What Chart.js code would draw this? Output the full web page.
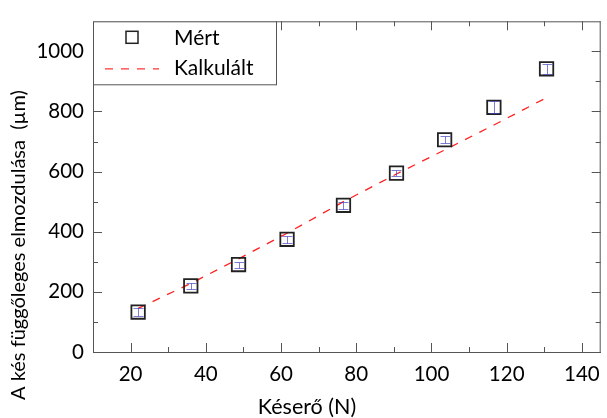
<!DOCTYPE html>
<html>
<head>
<meta charset="utf-8">
<script src="https://cdn.jsdelivr.net/npm/chart.js@4"></script>
<style>
  html, body { margin: 0; padding: 0; background: #fff; overflow: hidden; }
  #wrap { width: 612px; height: 418px; }
</style>
</head>
<body>
<div id="wrap"><canvas id="chart"></canvas></div>
<script>
// measured / calculated data
const force = [22, 36, 48.7, 61.6, 76.6, 90.7, 103.5, 116.6, 130.6]
const measured = [133, 220, 291, 375, 488, 595, 706, 814, 942]
const measuredErr = [12, 10, 10, 12, 12, 10, 12, 20, 17]
const calculated = [145, 228, 310, 395, 500, 592, 672, 755, 846]

const xMajor = [20, 40, 60, 80, 100, 120, 140]
const xMinor = [30, 50, 70, 90, 110, 130]
const yMajor = [0, 200, 400, 600, 800, 1000]
const yMinor = [100, 300, 500, 700, 900]

const FONT = "Lato, 'Open Sans', sans-serif"
const AXIS_COLOR = "#555"

const frame = {
  id: "frame",
  afterDatasetsDraw(chart) {
    const { ctx, chartArea: a, scales } = chart
    const x = scales.x, y = scales.y
    ctx.save()

    // error bars
    ctx.strokeStyle = "rgba(70,70,190,0.7)"
    ctx.lineWidth = 1
    force.forEach((f, i) => {
      const px = Math.round(x.getPixelForValue(f)) + 0.5
      const top = Math.round(y.getPixelForValue(measured[i] + measuredErr[i])) + 0.5
      const bot = Math.round(y.getPixelForValue(measured[i] - measuredErr[i])) + 0.5
      ctx.beginPath()
      ctx.moveTo(px, top); ctx.lineTo(px, bot)
      ctx.moveTo(px - 5, top); ctx.lineTo(px + 5, top)
      ctx.moveTo(px - 5, bot); ctx.lineTo(px + 5, bot)
      ctx.stroke()
    })

    // frame
    ctx.strokeStyle = AXIS_COLOR
    ctx.lineWidth = 1
    ctx.beginPath()
    ctx.moveTo(a.left, a.top + 0.5); ctx.lineTo(a.right, a.top + 0.5)
    ctx.moveTo(a.right - 0.5, a.top); ctx.lineTo(a.right - 0.5, a.bottom)
    // inward ticks
    const tick = (vals, len) => {
      vals.forEach((v) => {
        const px = Math.round(x.getPixelForValue(v)) + 0.5
        ctx.moveTo(px, a.bottom); ctx.lineTo(px, a.bottom - len)
        ctx.moveTo(px, a.top); ctx.lineTo(px, a.top + len)
      })
    }
    const ytick = (vals, len) => {
      vals.forEach((v) => {
        const py = Math.round(y.getPixelForValue(v)) + 0.5
        ctx.moveTo(a.left, py); ctx.lineTo(a.left + len, py)
        ctx.moveTo(a.right, py); ctx.lineTo(a.right - len, py)
      })
    }
    tick(xMajor, 9); tick(xMinor, 5)
    ytick(yMajor, 9); ytick(yMinor, 5)
    ctx.stroke()

    // legend
    const lx = a.left, ly = a.top, lw = 183, lh = 63
    ctx.fillStyle = "#fff"
    ctx.fillRect(lx, ly, lw, lh)
    ctx.strokeStyle = AXIS_COLOR
    ctx.strokeRect(lx + 0.5, ly + 0.5, lw, lh)
    ctx.strokeStyle = "#222"
    ctx.lineWidth = 1.5
    ctx.strokeRect(lx + 33, ly + 10, 12, 12)
    ctx.strokeStyle = "#ff3333"
    ctx.lineWidth = 1.3
    ctx.setLineDash([8, 8])
    ctx.beginPath()
    ctx.moveTo(lx + 12, ly + 47.5); ctx.lineTo(lx + 66, ly + 47.5)
    ctx.stroke()
    ctx.setLineDash([])
    ctx.fillStyle = "#000"
    ctx.font = "21px " + FONT
    ctx.textBaseline = "middle"
    ctx.textAlign = "left"
    ctx.fillText("Mért", lx + 81, ly + 17)
    ctx.fillText("Kalkulált", lx + 81, ly + 47)

    // axis titles
    ctx.font = "21.5px " + FONT
    ctx.textAlign = "center"
    ctx.fillText("Késerő (N)", 307, 407)
    ctx.font = "20px " + FONT
    ctx.translate(19, 245)
    ctx.rotate(-Math.PI / 2)
    ctx.fillText("A kés függőleges elmozdulása  (µm)", 0, 0)
    ctx.restore()
  },
}

new Chart(document.getElementById("chart"), {
  type: "scatter",
  data: {
    datasets: [
      {
        label: "Mért",
        data: force.map((f, i) => ({ x: f, y: measured[i] })),
        pointStyle: "rect",
        pointRadius: 9.5,
        pointHoverRadius: 9.5,
        borderColor: "#222",
        borderWidth: 1.8,
        backgroundColor: "rgba(0,0,0,0)",
      },
      {
        label: "Kalkulált",
        type: "line",
        data: force.map((f, i) => ({ x: f, y: calculated[i] })),
        borderColor: "#ff2020",
        borderWidth: 1.3,
        borderDash: [8, 8],
        pointRadius: 0,
        fill: false,
        tension: 0,
      },
    ],
  },
  options: {
    responsive: true,
    maintainAspectRatio: false,
    animation: false,
    devicePixelRatio: 1,
    layout: { padding: { left: 0, top: 10, right: 4, bottom: 0 } },
    plugins: { legend: { display: false }, tooltip: { enabled: false } },
    scales: {
      x: {
        type: "linear",
        min: 10,
        max: 145,
        afterBuildTicks: (s) => { s.ticks = xMajor.map((v) => ({ value: v })) },
        afterFit: (s) => { s.height = 66 },
        grid: { display: false, drawTicks: false },
        border: { display: true, color: AXIS_COLOR, width: 1 },
        ticks: { color: "#000", padding: 10, font: { family: FONT, size: 20.5 }, maxRotation: 0, callback: (v) => String(v) },
      },
      y: {
        type: "linear",
        min: 0,
        max: 1100,
        afterBuildTicks: (s) => { s.ticks = yMajor.map((v) => ({ value: v })) },
        afterFit: (s) => { s.width = 93 },
        grid: { display: false, drawTicks: false },
        border: { display: true, color: AXIS_COLOR, width: 1 },
        ticks: { color: "#000", padding: 9, font: { family: FONT, size: 20.5 }, callback: (v) => String(v) },
      },
    },
  },
  plugins: [frame],
})
</script>
</body>
</html>
